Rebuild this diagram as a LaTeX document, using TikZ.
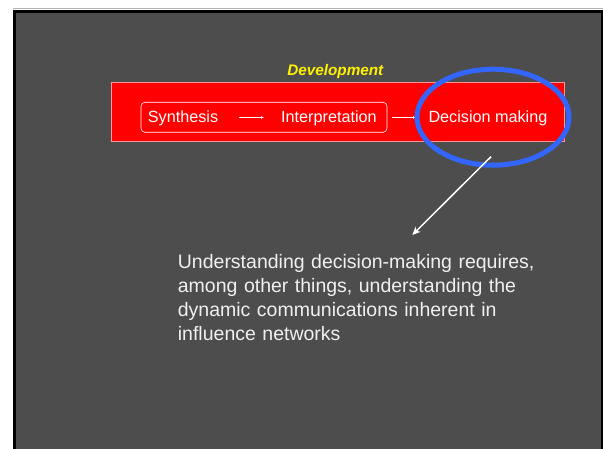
\documentclass[tikz,border=0pt]{standalone}
\usepackage{fontspec}
\setmainfont{Liberation Sans}
\usetikzlibrary{arrows.meta}
\definecolor{slidebg}{RGB}{77,77,77}
\definecolor{ellblue}{RGB}{51,102,255}
\definecolor{boxedge}{RGB}{255,150,150}
\definecolor{txt}{RGB}{240,240,240}
\tikzset{
  lbl/.style={font=\fontsize{16.2}{19}\selectfont, text=white, inner sep=0pt, anchor=base west},
  flow/.style={white, line width=0.8pt, -{Latex[length=3pt,width=3pt]}},
}
\begin{document}
\begin{tikzpicture}[x=1pt,y=-1pt]
\useasboundingbox (0,0) rectangle (603,449);
\fill[white] (0,0) rectangle (603,449);
\draw[gray!60, line width=1pt] (13,8.5) -- (603,8.5);
\fill[black] (13,10) rectangle (603,449);
\fill[slidebg] (16,13) rectangle (601,449);
% red box
\node[draw=boxedge, fill=red, line width=0.8pt, minimum width=453pt, minimum height=59pt, inner sep=0pt] (redbox) at (338.3,112.2) {};
\node[font=\fontsize{15.3}{18}\selectfont\bfseries\itshape, text=yellow, inner sep=0pt, anchor=base] (dev) at (335.3,75.7) {Development};
% rounded group
\node[draw=white, line width=0.6pt, rounded corners=4pt, minimum width=246pt, minimum height=30pt, inner sep=0pt] (grp) at (264,117.3) {};
\node[lbl] (syn) at (147.7,122.3) {Synthesis};
\node[lbl] (int) at (281,122.3) {Interpretation};
\node[lbl] (dec) at (428.3,122.3) {Decision making};
\coordinate (a1s) at (239,117.5);
\coordinate (a1e) at (264,117.5);
\coordinate (a2s) at (392,117.5);
\coordinate (a2e) at (416,117.5);
\draw[flow] (a1s) -- (a1e);
\draw[flow] (a2s) -- (a2e);
% ellipse
\draw[ellblue, line width=5pt] (493,117.2) ellipse [x radius=76, y radius=48];
\node[inner sep=0pt, minimum width=152pt, minimum height=96pt, shape=rectangle] (ell) at (493,117.2) {};
% arrow
\coordinate (as) at (491,156.7);
\coordinate (ae) at (412.3,235);
\draw[white, line width=1.5pt, -{Stealth[length=8pt,width=7pt,inset=2pt]}] (as) -- (ae);
% body text
\node[font=\fontsize{19.5}{24}\selectfont, text=txt, align=left, anchor=north west, inner sep=0pt, text width=400pt] (body) at (177.7,254) {Understanding decision-making requires,\\among other things, understanding the\\dynamic communications inherent in\\influence networks};
\end{tikzpicture}
\end{document}
